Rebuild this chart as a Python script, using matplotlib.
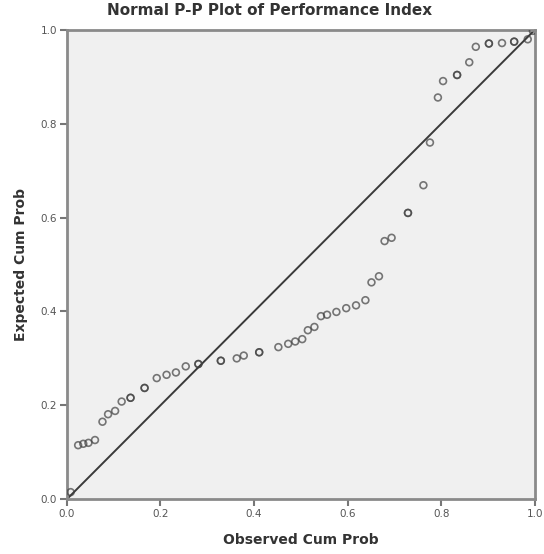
import matplotlib.pyplot as plt
import numpy as np

# Observed vs expected cumulative probabilities
observed = [0.008, 0.024, 0.035, 0.046, 0.060, 0.076, 0.088, 0.103, 0.117, 0.136, 0.136,
            0.166, 0.166, 0.192, 0.213, 0.233, 0.254, 0.281, 0.281, 0.329, 0.329, 0.363,
            0.378, 0.411, 0.411, 0.452, 0.473, 0.488, 0.503, 0.515, 0.529, 0.543, 0.556,
            0.576, 0.597, 0.618, 0.638, 0.651, 0.667, 0.679, 0.694, 0.729, 0.729, 0.762,
            0.776, 0.793, 0.804, 0.834, 0.834, 0.860, 0.874, 0.902, 0.902, 0.930, 0.956,
            0.956, 0.985, 0.996]
expected = [0.015, 0.115, 0.118, 0.120, 0.126, 0.165, 0.181, 0.188, 0.208, 0.216, 0.216,
            0.237, 0.237, 0.258, 0.265, 0.270, 0.283, 0.288, 0.288, 0.295, 0.295, 0.300,
            0.306, 0.313, 0.313, 0.324, 0.331, 0.336, 0.341, 0.360, 0.367, 0.390, 0.393,
            0.399, 0.407, 0.413, 0.424, 0.462, 0.475, 0.550, 0.557, 0.610, 0.610, 0.669,
            0.760, 0.856, 0.891, 0.904, 0.904, 0.931, 0.964, 0.971, 0.971, 0.972, 0.975,
            0.975, 0.980, 0.998]

fig = plt.figure(figsize=(5.44, 5.54), dpi=100)
ax = fig.add_axes([0.123, 0.099, 0.86, 0.847])
ax.set_facecolor("#f0f0f0")

ax.plot([0, 1], [0, 1], color="#3a3a3a", linewidth=1.4, zorder=2)
ax.scatter(observed, expected, s=24, facecolors="none", edgecolors="#404040",
           linewidths=1.2, alpha=0.7, zorder=3)

ax.set_xlim(0, 1)
ax.set_ylim(0, 1)
ax.set_xticks(np.arange(0, 1.01, 0.2))
ax.set_yticks(np.arange(0, 1.01, 0.2))
ax.xaxis.set_major_formatter(plt.FormatStrFormatter("%.1f"))
ax.yaxis.set_major_formatter(plt.FormatStrFormatter("%.1f"))
ax.tick_params(direction="out", length=5, width=1.5, color="#777777",
               labelsize=7.5, labelcolor="#555555", pad=2)

for s in ax.spines.values():
    s.set_color("#8a8a8a")
    s.set_linewidth(2)

fig.suptitle("Normal P-P Plot of Performance Index", x=0.495, y=0.995,
             fontsize=11, fontweight="bold", color="#333333")
ax.set_xlabel("Observed Cum Prob", fontsize=10, fontweight="bold", color="#333333", labelpad=10)
ax.set_ylabel("Expected Cum Prob", fontsize=10, fontweight="bold", color="#333333", labelpad=9)

plt.savefig("out.png", dpi=100)
